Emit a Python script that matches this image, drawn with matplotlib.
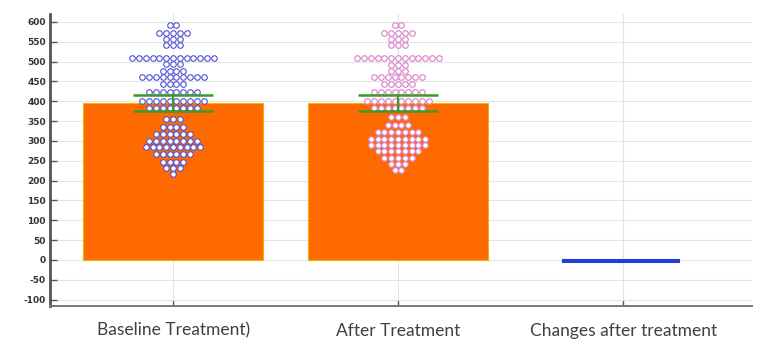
import matplotlib
matplotlib.use("Agg")
import matplotlib.pyplot as plt
import matplotlib.transforms as mtransforms
import numpy as np

# ---- data ----
categories = ["Baseline Treatment)", "After Treatment", "Changes after treatment"]
bar_means = [395, 395]
bar_sd = [20, 20]
change_mean = -3

baseline_levels = [592, 572, 556, 542, 510, 494, 476, 460, 444, 424, 400, 384,
                   356, 336, 318, 301, 284, 266, 248, 231, 217]
baseline_counts = [2, 5, 3, 3, 13, 3, 4, 10, 4, 8, 10, 8,
                   3, 4, 6, 8, 9, 6, 4, 3, 1]

after_levels = [592, 572, 556, 542, 510, 492, 476, 460, 444, 424, 400, 384,
                360, 340, 322, 306, 290, 274, 258, 242, 226]
after_counts = [2, 5, 3, 3, 13, 3, 3, 8, 5, 8, 10, 8,
                3, 4, 7, 9, 9, 7, 5, 3, 2]

yticks = list(range(-100, 601, 50))

# ---- figure ----
W, H, DPI = 774, 345, 100
fig = plt.figure(figsize=(W / DPI, H / DPI), dpi=DPI)
ax = fig.add_axes([50 / W, 1 - 306 / H, (752 - 50) / W, (306 - 14) / H])

x = np.arange(len(categories))
ax.set_xlim(-0.547, 2.573)
ax.set_ylim(-116, 620)

ax.set_axisbelow(True)
ax.grid(True, color="#e4e4e4", linewidth=0.8)

orange = "#ff6a00"
ax.bar(x[:2], bar_means, width=0.8, color=orange, edgecolor="#e8b800",
       linewidth=0.8, zorder=2)


def swarm(center, levels, counts, step):
    xs, ys = [], []
    for lv, c in zip(levels, counts):
        offs = (np.arange(c) - (c - 1) / 2) * step
        xs.extend(center + offs)
        ys.extend([lv] * c)
    return np.array(xs), np.array(ys)


step = 6.8 / 225
bx, by = swarm(x[0], baseline_levels, baseline_counts, step)
ax.scatter(bx, by, s=16, facecolor="white", edgecolor="#5050d0",
           linewidth=0.8, zorder=3)
axx, ayy = swarm(x[1], after_levels, after_counts, step)
ax.scatter(axx, ayy, s=16, facecolor="white", edgecolor="#d880c8",
           linewidth=0.8, zorder=3)

ax.errorbar(x[:2], bar_means, yerr=bar_sd, fmt="none", ecolor="#3c9a2c",
            elinewidth=1.6, capsize=29, capthick=1.8, zorder=4)

ax.bar([x[2] - 0.013], [change_mean], width=0.51, color="#1f3fd6",
       edgecolor="#1f3fd6", linewidth=2.2, zorder=3)

ax.set_yticks(yticks)
ax.set_yticklabels([str(v) for v in yticks], fontsize=6.5, color="#333333",
                   fontweight="bold")
ax.set_xticks(x)
ax.set_xticklabels(categories, fontsize=12.5, color="#404040", family="Lato")

offsets_px = [-11, 40, 37]
for lab, dx in zip(ax.get_xticklabels(), offsets_px):
    lab.set_transform(lab.get_transform() +
                      mtransforms.ScaledTranslation(dx / DPI, 0, fig.dpi_scale_trans))

ax.tick_params(axis="y", direction="in", length=5, width=1, color="#555555", pad=3)
ax.tick_params(axis="x", direction="in", length=4, width=1, color="#555555", pad=12)

for s in ["top", "right"]:
    ax.spines[s].set_visible(False)
ax.spines["left"].set_color("#555555")
ax.spines["left"].set_linewidth(2.0)
ax.spines["bottom"].set_color("#777777")
ax.spines["bottom"].set_linewidth(1.4)

fig.savefig("out.png", dpi=DPI)
